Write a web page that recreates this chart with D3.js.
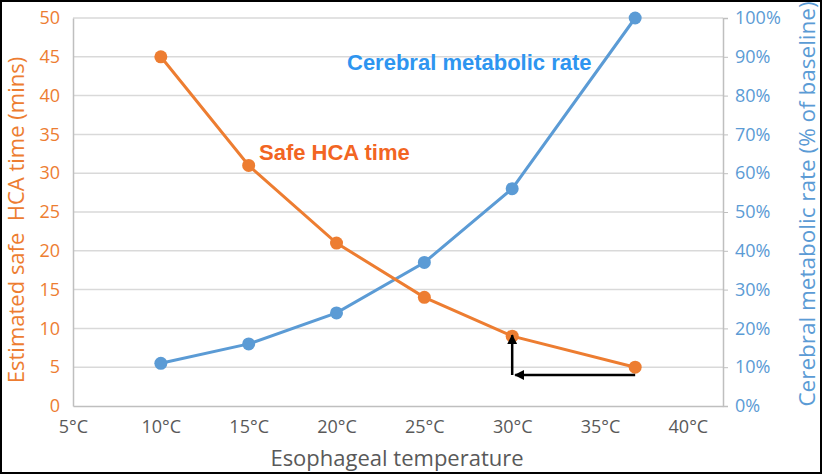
<!DOCTYPE html>
<html><head><meta charset="utf-8">
<script src="https://cdn.jsdelivr.net/npm/d3@7"></script>
<style>body{margin:0;background:#fff}svg{display:block}</style>
</head><body><svg id="c" width="822" height="474"></svg>
<script>
const temps = [10, 15, 20, 25, 30, 37];
const safeHCA = [45, 31, 21, 14, 9, 5];
const cmr = [11, 16, 24, 37, 56, 100];
const xTicks = [5, 10, 15, 20, 25, 30, 35, 40];
const leftTicks = [0, 5, 10, 15, 20, 25, 30, 35, 40, 45, 50];
const rightTicks = [0, 10, 20, 30, 40, 50, 60, 70, 80, 90, 100];

const orange = "#ED7D31", blue = "#5B9BD5", grey = "#595959";
const svg = d3.select("#c");
const L = 73, R = 723, T = 18, B = 406;
const x = d3.scaleLinear().domain([5, 42]).range([L, R]);
const yL = d3.scaleLinear().domain([0, 50]).range([B, T]);
const yR = d3.scaleLinear().domain([0, 100]).range([B, T]);
const font = "'Open Sans', 'Liberation Sans', sans-serif";

svg.append("rect").attr("x", 1).attr("y", 1).attr("width", 820).attr("height", 472)
  .attr("fill", "#fff").attr("stroke", "#000").attr("stroke-width", 2);

// gridlines
svg.append("g").selectAll("line").data(leftTicks.slice(1)).join("line")
  .attr("x1", L).attr("x2", R).attr("y1", d => yL(d)).attr("y2", d => yL(d))
  .attr("stroke", "#d9d9d9").attr("stroke-width", 1.5);

// axes
const gx = svg.append("g").attr("transform", `translate(0,${B})`)
  .call(d3.axisBottom(x).tickValues(xTicks).tickFormat(d => d + "°C").tickSize(0).tickPadding(14));
gx.select(".domain").attr("stroke", "#bfbfbf").attr("stroke-width", 1.5);
gx.selectAll("text").attr("fill", grey).style("font-family", font).style("font-size", "18px");

const gl = svg.append("g").attr("transform", `translate(${L},0)`)
  .call(d3.axisLeft(yL).tickValues(leftTicks).tickSize(0).tickPadding(13));
gl.select(".domain").attr("stroke", "#bfbfbf").attr("stroke-width", 1.5);
gl.selectAll("text").attr("fill", orange).style("font-family", font).style("font-size", "18px");

const gr = svg.append("g").attr("transform", `translate(${R},0)`)
  .call(d3.axisRight(yR).tickValues(rightTicks).tickFormat(d => d + "%").tickSize(5).tickPadding(7));
gr.select(".domain").attr("stroke", "#bfbfbf").attr("stroke-width", 1.5);
gr.selectAll("line").attr("stroke", "#bfbfbf");
gr.selectAll("text").attr("fill", blue).style("font-family", font).style("font-size", "18px");

// axis titles
svg.append("text").attr("x", 397).attr("y", 466).attr("text-anchor", "middle")
  .attr("fill", grey).style("font-family", font).style("font-size", "22px").text("Esophageal temperature");
svg.append("text").attr("transform", "translate(24,220) rotate(-90)").attr("text-anchor", "middle")
  .attr("fill", orange).style("font-family", font).style("font-size", "22px").attr("xml:space", "preserve")
  .text("Estimated safe  HCA time (mins)");
svg.append("text").attr("transform", "translate(815,204) rotate(-90)").attr("text-anchor", "middle")
  .attr("fill", blue).style("font-family", font).style("font-size", "22.5px")
  .text("Cerebral metabolic rate (% of baseline)");

// lines
const ptsO = temps.map((t, i) => [t, safeHCA[i]]);
const ptsB = temps.map((t, i) => [t, cmr[i]]);
svg.append("path").datum(ptsB).attr("fill", "none").attr("stroke", blue).attr("stroke-width", 3)
  .attr("d", d3.line().x(d => x(d[0])).y(d => yR(d[1])));
svg.append("g").selectAll("circle").data(ptsB).join("circle")
  .attr("cx", d => x(d[0])).attr("cy", d => yR(d[1])).attr("r", 6.5).attr("fill", blue);
svg.append("path").datum(ptsO).attr("fill", "none").attr("stroke", orange).attr("stroke-width", 3)
  .attr("d", d3.line().x(d => x(d[0])).y(d => yL(d[1])));
svg.append("g").selectAll("circle").data(ptsO).join("circle")
  .attr("cx", d => x(d[0])).attr("cy", d => yL(d[1])).attr("r", 6.5).attr("fill", orange);

// series labels
svg.append("text").attr("x", 347).attr("y", 70).attr("fill", "#2E95F0")
  .style("font-family", "'Liberation Sans', Arial, sans-serif").style("font-size", "22px").style("font-weight", "bold")
  .text("Cerebral metabolic rate");
svg.append("text").attr("x", 259).attr("y", 160).attr("fill", "#F26522")
  .style("font-family", "'Liberation Sans', Arial, sans-serif").style("font-size", "22px").style("font-weight", "bold")
  .text("Safe HCA time");

// arrows
const defs = svg.append("defs");
defs.append("marker").attr("id", "ah").attr("viewBox", "0 0 10 10").attr("refX", 9).attr("refY", 5)
  .attr("markerWidth", 4).attr("markerHeight", 4).attr("orient", "auto")
  .append("path").attr("d", "M0,0 L10,5 L0,10 Z").attr("fill", "#000");
const ay = 375;
svg.append("line").attr("x1", x(37)).attr("y1", ay).attr("x2", x(30) + 3).attr("y2", ay)
  .attr("stroke", "#000").attr("stroke-width", 2.5).attr("marker-end", "url(#ah)");
svg.append("line").attr("x1", x(30)).attr("y1", ay).attr("x2", x(30)).attr("y2", yL(9) - 1)
  .attr("stroke", "#000").attr("stroke-width", 2.5).attr("marker-end", "url(#ah)");
</script></body></html>
